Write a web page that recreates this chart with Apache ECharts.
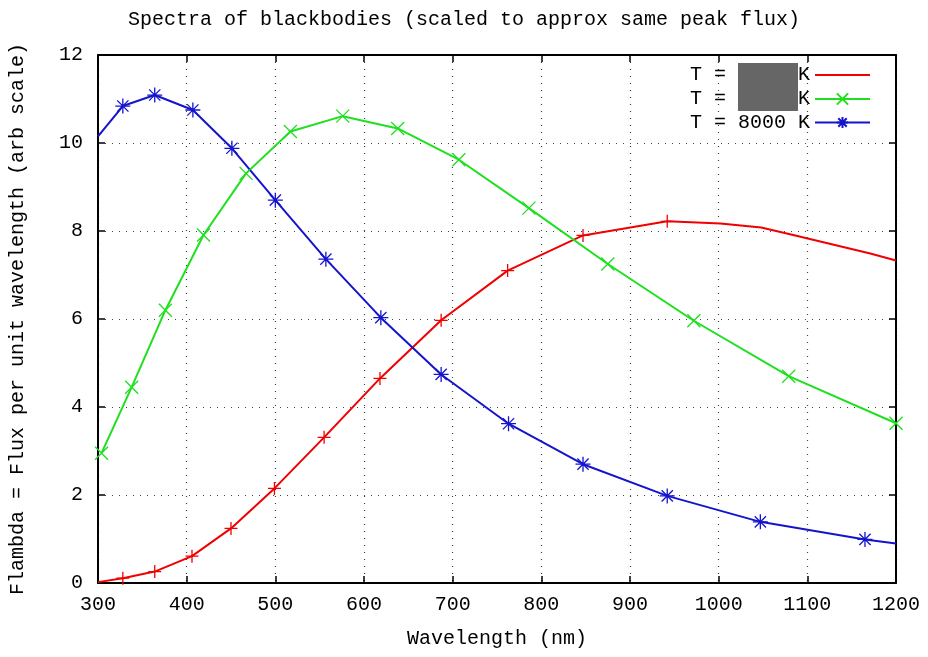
<!DOCTYPE html>
<html>
<head>
<meta charset="utf-8">
<title>Spectra of blackbodies</title>
<script src="https://cdn.jsdelivr.net/npm/echarts@6/dist/echarts.min.js"></script>
<style>
  html, body { margin: 0; padding: 0; background: #fff; }
  #chart { width: 928px; height: 657px; }
</style>
</head>
<body>
<div id="chart"></div>
<script>
// values (wavelength in nm, flux in arb units)
// mark = 1 where the original plot draws a point symbol
var redWave  = [300, 328, 364, 406, 450, 499, 555, 618, 687, 762, 847, 942, 1002, 1048, 1084, 1171, 1200];
var redFlux  = [0.02, 0.11, 0.26, 0.61, 1.24, 2.15, 3.31, 4.65, 5.97, 7.10, 7.90, 8.22, 8.17, 8.08, 7.91, 7.49, 7.33];
var redMark  = [0, 1, 1, 1, 1, 1, 1, 1, 1, 1, 1, 1, 0, 0, 0, 0, 0];

var greenWave = [304, 338, 376, 419, 467, 517, 576, 638, 707, 786, 875, 972, 1079, 1200];
var greenFlux = [2.95, 4.45, 6.20, 7.91, 9.31, 10.26, 10.61, 10.33, 9.62, 8.52, 7.25, 5.96, 4.70, 3.63];
var greenMark = [1, 1, 1, 1, 1, 1, 1, 1, 1, 1, 1, 1, 1, 1];

var blueWave = [300, 328, 364, 407, 451, 500, 557, 619, 687, 763, 847, 942, 1047, 1165, 1200];
var blueFlux = [10.15, 10.84, 11.09, 10.75, 9.88, 8.70, 7.36, 6.03, 4.74, 3.62, 2.70, 1.98, 1.39, 0.99, 0.90];
var blueMark = [0, 1, 1, 1, 1, 1, 1, 1, 1, 1, 1, 1, 1, 1, 0];

var seriesNames = ['T = [hidden] K (red)', 'T = [hidden] K (green)', 'T = 8000 K'];
var xTicks = [300, 1200, 100];
var yTicks = [0, 12, 2];

var monoFont = "'Liberation Mono', 'DejaVu Sans Mono', monospace";

var plusPath = 'path://M0,-1L0,1M-1,0L1,0';
var crossPath = 'path://M-1,-1L1,1M-1,1L1,-1';
var starPath = 'path://M0,-1L0,1M-1,0L1,0M-0.75,-0.75L0.75,0.75M-0.75,0.75L0.75,-0.75';

function makePoints(wave, flux, mark) {
    var pts = [];
    for (var i = 0; i < wave.length; i++) {
        var p = { value: [wave[i], flux[i]] };
        if (!mark[i]) p.symbol = 'none';
        pts.push(p);
    }
    return pts;
}

function makeSeries(name, color, symbol, size, pts) {
    return {
        name: name,
        type: 'line',
        color: color,
        data: pts,
        symbol: symbol,
        symbolSize: size,
        showAllSymbol: true,
        animation: false,
        lineStyle: { color: color, width: 2 },
        itemStyle: { color: color, borderColor: color, borderWidth: 1.3 },
        emphasis: { disabled: true }
    };
}

var dom = document.getElementById('chart');
var chart = echarts.init(dom);

var option = {
    backgroundColor: '#fff',
    animation: false,
    title: {
        text: 'Spectra of blackbodies (scaled to approx same peak flux)',
        left: 'center',
        top: 5,
        textStyle: { fontFamily: monoFont, fontSize: 20, fontWeight: 'normal', color: '#000' }
    },
    legend: {
        orient: 'vertical',
        right: 52,
        top: 58,
        align: 'right',
        itemWidth: 55,
        itemHeight: 14,
        itemGap: 0,
        textStyle: {
            fontFamily: monoFont,
            fontSize: 20,
            color: '#000',
            lineHeight: 23,
            rich: {
                box: { width: 60, height: 24, backgroundColor: '#666666' }
            }
        },
        formatter: function (name) {
            if (name === seriesNames[2]) return name;
            return 'T = {box|}K';
        },
        data: [
            { name: seriesNames[0], itemStyle: { borderWidth: 0 } },
            { name: seriesNames[1] },
            { name: seriesNames[2] }
        ]
    },
    grid: { left: 97, right: 32, top: 55, bottom: 74 },
    xAxis: [{
        type: 'value',
        min: xTicks[0], max: xTicks[1], interval: xTicks[2],
        name: 'Wavelength (nm)',
        nameLocation: 'middle',
        nameGap: 46,
        nameTextStyle: { fontFamily: monoFont, fontSize: 20, color: '#000' },
        axisLine: { show: true, onZero: false, lineStyle: { color: '#000', width: 2 } },
        axisTick: { inside: true, length: 7, lineStyle: { color: '#000', width: 1.5 } },
        axisLabel: {
            fontFamily: monoFont, fontSize: 20, color: '#000', margin: 12,
            formatter: function (v) { return String(v); }
        },
        splitLine: { show: true, lineStyle: { color: '#444', width: 1.2, type: [1, 6] } }
    }, {
        type: 'value',
        position: 'top',
        min: xTicks[0], max: xTicks[1], interval: xTicks[2],
        axisLine: { show: true, onZero: false, lineStyle: { color: '#000', width: 2 } },
        axisTick: { inside: true, length: 7, lineStyle: { color: '#000', width: 1.5 } },
        axisLabel: { show: false },
        splitLine: { show: false }
    }],
    yAxis: [{
        type: 'value',
        min: yTicks[0], max: yTicks[1], interval: yTicks[2],
        name: 'Flambda = Flux per unit wavelength (arb scale)',
        nameLocation: 'middle',
        nameGap: 70,
        nameTextStyle: { fontFamily: monoFont, fontSize: 20, color: '#000' },
        axisLine: { show: true, onZero: false, lineStyle: { color: '#000', width: 2 } },
        axisTick: { show: true, inside: true, length: 7, lineStyle: { color: '#000', width: 1.5 } },
        axisLabel: { fontFamily: monoFont, fontSize: 20, color: '#000', margin: 15 },
        splitLine: { show: true, lineStyle: { color: '#444', width: 1.2, type: [1, 6] } }
    }, {
        type: 'value',
        position: 'right',
        min: yTicks[0], max: yTicks[1], interval: yTicks[2],
        axisLine: { show: true, onZero: false, lineStyle: { color: '#000', width: 2 } },
        axisTick: { show: true, inside: true, length: 7, lineStyle: { color: '#000', width: 1.5 } },
        axisLabel: { show: false },
        splitLine: { show: false }
    }],
    series: [
        makeSeries(seriesNames[0], '#f00000', plusPath, 13, makePoints(redWave, redFlux, redMark)),
        makeSeries(seriesNames[1], '#1ee01e', crossPath, 13, makePoints(greenWave, greenFlux, greenMark)),
        makeSeries(seriesNames[2], '#1414cc', starPath, 15, makePoints(blueWave, blueFlux, blueMark))
    ]
};

chart.setOption(option);
window.onresize = chart.resize;
</script>
</body>
</html>
